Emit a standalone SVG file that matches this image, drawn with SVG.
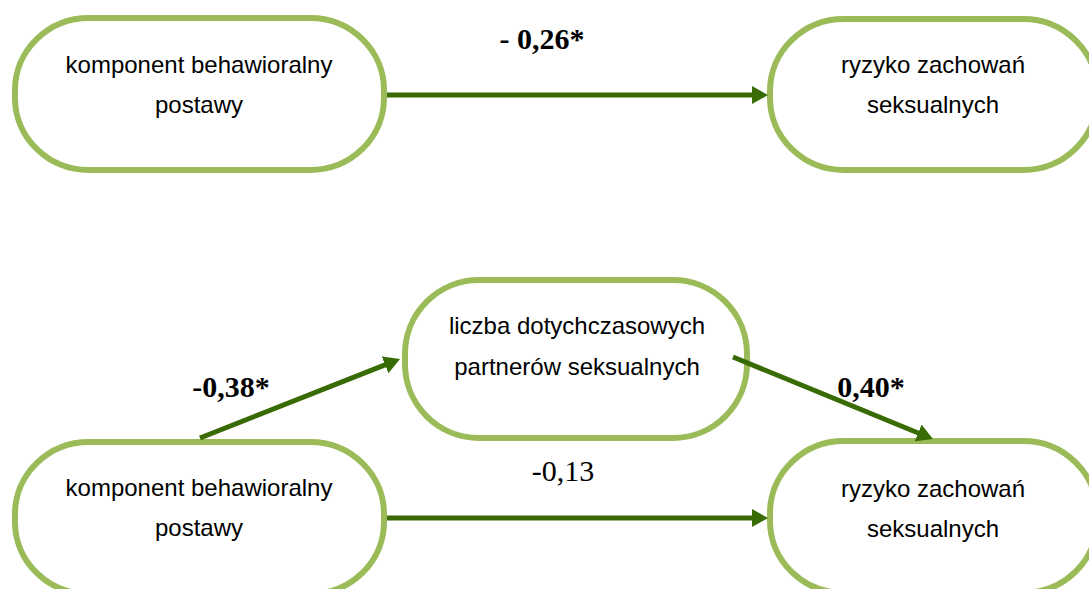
<svg xmlns="http://www.w3.org/2000/svg" width="1089" height="589" viewBox="0 0 1089 589">
  <style>
    .node rect { fill: #ffffff; stroke: #9bbb59; stroke-width: 6; }
    .node text { font-family: "Liberation Sans", Arial, sans-serif; font-size: 24px; fill: #000000; text-anchor: middle; }
    .edge { stroke: #386b03; stroke-width: 5; fill: none; marker-end: url(#arrow); }
    .lbl { font-family: "Liberation Serif", "Times New Roman", serif; font-size: 30px; fill: #000000; text-anchor: middle; }
    .bold { font-weight: bold; }
  </style>
  <defs>
    <marker id="arrow" viewBox="0 0 16 18" refX="6" refY="9" markerWidth="16" markerHeight="18" markerUnits="userSpaceOnUse" orient="auto">
      <path d="M0,0 L16,9 L0,18 Z" fill="#386b03"/>
    </marker>
  </defs>
  <rect width="1089" height="589" fill="#ffffff"/>

  <g id="node-behav-top" class="node">
    <rect x="15" y="18" width="369" height="152" rx="74" ry="72"/>
    <text x="199" y="73">komponent behawioralny</text>
    <text x="199" y="113">postawy</text>
  </g>
  <g id="node-ryzyko-top" class="node">
    <rect x="770" y="19" width="327" height="151" rx="74" ry="72"/>
    <text x="933" y="73">ryzyko zachowań</text>
    <text x="933" y="113">seksualnych</text>
  </g>
  <g id="node-liczba" class="node">
    <rect x="405" y="280" width="342" height="158" rx="74" ry="74"/>
    <text x="577" y="334">liczba dotychczasowych</text>
    <text x="577" y="375">partnerów seksualnych</text>
  </g>
  <g id="node-behav-bottom" class="node">
    <rect x="15" y="442" width="369" height="152" rx="74" ry="72"/>
    <text x="199" y="496">komponent behawioralny</text>
    <text x="199" y="536">postawy</text>
  </g>
  <g id="node-ryzyko-bottom" class="node">
    <rect x="770" y="441" width="327" height="152" rx="74" ry="72"/>
    <text x="933" y="497">ryzyko zachowań</text>
    <text x="933" y="537">seksualnych</text>
  </g>

  <g id="connectors">
    <line class="edge" x1="387" y1="95" x2="758" y2="95"/>
    <line class="edge" x1="200" y1="438" x2="390.7" y2="362.7"/>
    <line class="edge" x1="733" y1="357" x2="923.7" y2="435.2"/>
    <line class="edge" x1="387" y1="518" x2="758" y2="518"/>
    <text class="lbl bold" x="542" y="49">- 0,26*</text>
    <text class="lbl bold" x="231" y="397">-0,38*</text>
    <text class="lbl bold" x="871" y="397">0,40*</text>
    <text class="lbl" x="563" y="481">-0,13</text>
  </g>
</svg>
